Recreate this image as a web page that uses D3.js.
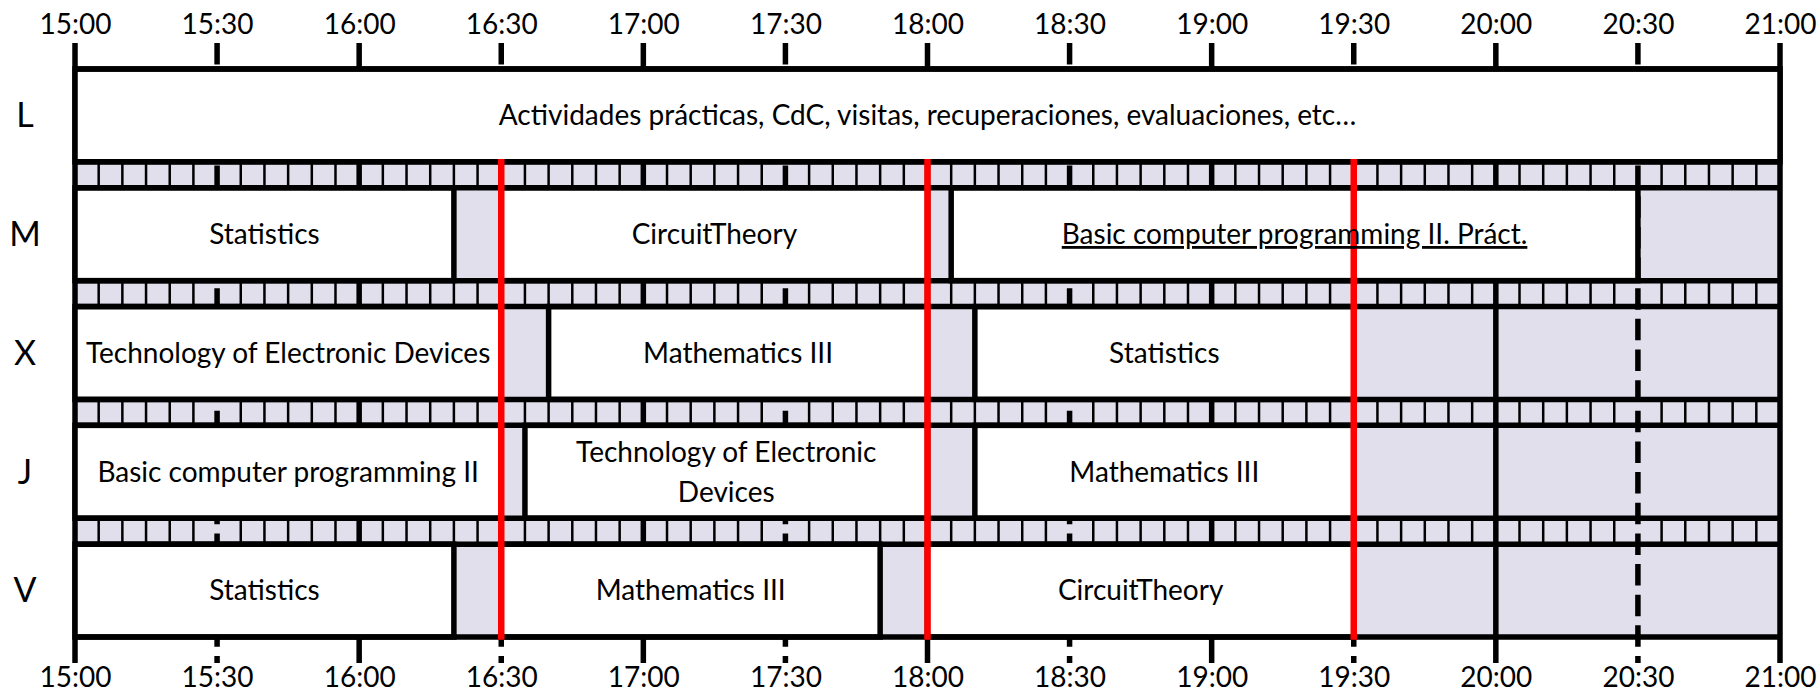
<!DOCTYPE html>
<meta charset="utf-8">
<style>
 body{ margin:0; background:#fff; }
 svg{ font-family: Lato, sans-serif; background:#fff; }
 .day{ font-size:34px; fill:#000; }
 .cls{ font-size:28px; fill:#000; }
</style>
<body>
<svg width="1817" height="696"></svg>
</body>
<script src="https://d3js.org/d3.v7.min.js"></script>
<script>

// timetable data
var days = ["L", "M", "X", "J", "V"];
var timeTicks = ["15:00","15:30","16:00","16:30","17:00","17:30","18:00",
                 "18:30","19:00","19:30","20:00","20:30","21:00"];
var breakTimes = ["16:30", "18:00", "19:30"];   // red lines
var sessions = [
    ["L", "15:00", "21:00", "Actividades prácticas, CdC, visitas, recuperaciones, evaluaciones, etc…"],
    ["M", "15:00", "16:20", "Statistics"],
    ["M", "16:30", "18:00", "CircuitTheory"],
    ["M", "18:05", "20:30", "Basic computer programming II. Práct."],
    ["X", "15:00", "16:30", "Technology of Electronic Devices"],
    ["X", "16:40", "18:00", "Mathematics III"],
    ["X", "18:10", "19:30", "Statistics"],
    ["J", "15:00", "16:30", "Basic computer programming II"],
    ["J", "16:35", "18:00", "Technology of Electronic|Devices"],
    ["J", "18:10", "19:30", "Mathematics III"],
    ["V", "15:00", "16:20", "Statistics"],
    ["V", "16:30", "17:50", "Mathematics III"],
    ["V", "18:00", "19:30", "CircuitTheory"]
];
var underlined = ["Basic computer programming II. Práct."];

var parse = d3.timeParse("%H:%M"),
    fmt = d3.timeFormat("%H:%M");

var svg = d3.select("svg");
var thick = 5.5, thin = 2.5;

var x = d3.scaleTime()
    .domain([parse(timeTicks[0]), parse(timeTicks[timeTicks.length - 1])])
    .range([75, 1780]);
var y = d3.scaleBand()
    .domain(days)
    .range([69, 637])
    .paddingInner(26 / 119);
var bw = y.bandwidth();

var x0 = x.range()[0], x1 = x.range()[1];
var yTop = y.range()[0], yBot = y.range()[1];

// background for free time
svg.append("rect")
    .attr("x", x0).attr("y", yTop)
    .attr("width", x1 - x0).attr("height", yBot - yTop)
    .attr("fill", "#e1dfec");

// 5 minute marks inside the strips between days
var fiveMin = d3.timeMinute.every(5).range(x.domain()[0], x.domain()[1])
    .filter(function(d){ return d.getMinutes() % 30 != 0; });
var strips = days.slice(0, -1).map(function(d, i){
    return [y(d) + bw, y(days[i + 1])];
});
strips.forEach(function(s){
    svg.append("g").selectAll("line")
        .data(fiveMin).enter().append("line")
        .attr("x1", function(d){ return x(d); })
        .attr("x2", function(d){ return x(d); })
        .attr("y1", s[0]).attr("y2", s[1])
        .attr("stroke", "#000").attr("stroke-width", thin);
});

// hour and half hour lines
svg.append("g").selectAll("line")
    .data(timeTicks.map(parse)).enter().append("line")
    .attr("x1", function(d){ return x(d); })
    .attr("x2", function(d){ return x(d); })
    .attr("y1", 43).attr("y2", 663)
    .attr("stroke", "#000").attr("stroke-width", thick)
    .attr("stroke-dasharray", function(d){ return d.getMinutes() == 0 ? null : "21.5,9.15"; });

// class boxes
svg.append("g").selectAll("rect")
    .data(sessions).enter().append("rect")
    .attr("x", function(d){ return x(parse(d[1])); })
    .attr("y", function(d){ return y(d[0]); })
    .attr("width", function(d){ return x(parse(d[2])) - x(parse(d[1])); })
    .attr("height", bw)
    .attr("fill", "#fff")
    .attr("stroke", "#000").attr("stroke-width", thick);

// row borders
var edges = [];
days.forEach(function(d){ edges.push(y(d), y(d) + bw); });
svg.append("g").selectAll("line")
    .data(edges).enter().append("line")
    .attr("x1", x0).attr("x2", x1)
    .attr("y1", function(d){ return d; }).attr("y2", function(d){ return d; })
    .attr("stroke", "#000").attr("stroke-width", thick);

// red break lines
svg.append("g").selectAll("line")
    .data(breakTimes.map(parse)).enter().append("line")
    .attr("x1", function(d){ return x(d); })
    .attr("x2", function(d){ return x(d); })
    .attr("y1", y(days[0]) + bw - thick / 2)
    .attr("y2", yBot + thick / 2)
    .attr("stroke", "#ff0000").attr("stroke-width", 6.5);

// class names
var labels = svg.append("g").selectAll("text")
    .data(sessions).enter().append("text")
    .attr("class", "cls")
    .attr("text-anchor", "middle")
    .style("text-decoration", function(d){ return underlined.indexOf(d[3]) >= 0 ? "underline" : null; });
labels.each(function(d){
    var lines = d[3].split("|");
    var cx = (x(parse(d[1])) + x(parse(d[2]))) / 2;
    var cy = y(d[0]) + bw / 2;
    var lh = 40;
    d3.select(this).selectAll("tspan")
        .data(lines).enter().append("tspan")
        .attr("x", cx)
        .attr("y", function(t, i){ return cy + (i - (lines.length - 1) / 2) * lh; })
        .attr("dy", "0.35em")
        .text(function(t){ return t; });
});

// day letters
svg.append("g").selectAll("text")
    .data(days).enter().append("text")
    .attr("class", "day")
    .attr("x", 25)
    .attr("y", function(d){ return y(d) + bw / 2; })
    .attr("dy", "0.35em")
    .attr("text-anchor", "middle")
    .text(function(d){ return d; });

// time axes
var topAxis = d3.axisTop(x).tickValues(timeTicks.map(parse)).tickFormat(fmt)
    .tickSize(0).tickPadding(9);
var botAxis = d3.axisBottom(x).tickValues(timeTicks.map(parse)).tickFormat(fmt)
    .tickSize(0).tickPadding(4);

[[topAxis, 43], [botAxis, 663]].forEach(function(a){
    var g = svg.append("g")
        .attr("transform", "translate(0," + a[1] + ")")
        .call(a[0]);
    g.attr("font-family", null).attr("font-size", 28);
    g.select(".domain").remove();
    g.selectAll("text").attr("fill", "#000");
});

</script>
</html>
